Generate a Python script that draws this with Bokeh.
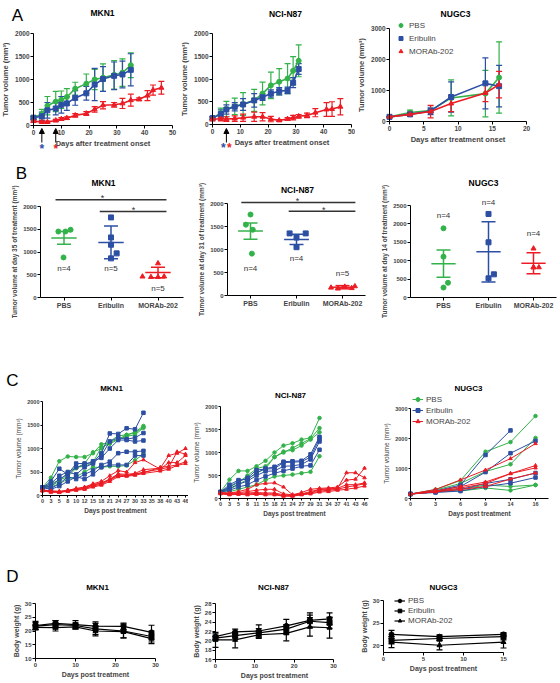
from bokeh.plotting import figure
from bokeh.models import (Range1d, Whisker, TeeHead, ColumnDataSource, Arrow,
                          NormalHead, FixedTicker, Legend, LegendItem)
from bokeh.layouts import row, column
from bokeh.embed import file_html
from bokeh.resources import INLINE
from bokeh.core.properties import value

NAN = float("nan")
FONT = "Liberation Sans"
GREEN = "#33b24a"
BLUE = "#2c4fa3"
RED = "#ec1c24"
COLORS = [GREEN, BLUE, RED]
MARKERS = ["circle", "square", "triangle"]
groups = ["PBS", "Eribulin", "MORAb-202"]

# ---------------- Panel A : mean +/- SEM tumour volume ----------------
a_mkn1_days = [0, 3, 5, 8, 10, 12, 15, 19, 22, 25, 29, 32, 35]
a_mkn1_days_mor = [0, 3, 5, 8, 10, 12, 15, 19, 22, 25, 29, 32, 35, 38, 41, 43, 46]
a_mkn1_pbs = [170, 250, 430, 520, 560, 620, 800, 910, 1000, 1040, 1100, 1150, 1310]
a_mkn1_pbs_sem = [30, 100, 200, 220, 190, 180, 140, 210, 220, 300, 310, 300, 270]
a_mkn1_eri = [170, 200, 330, 370, 450, 480, 600, 700, 890, 1010, 1080, 1110, 1210]
a_mkn1_eri_sem = [30, 90, 170, 140, 180, 150, 160, 150, 350, 270, 300, 290, 350]
a_mkn1_mor = [95, 75, 75, 110, 140, 160, 220, 260, 350, 440, 450, 480, 550, 570, 650, 770, 820]
a_mkn1_mor_sem = [20, 20, 20, 25, 30, 30, 40, 40, 60, 80, 50, 110, 130, 30, 110, 110, 140]
a_mkn1_arrow_days = [3, 8]

a_n87_days = [0, 3, 5, 8, 11, 15, 18, 21, 24, 27, 29, 31]
a_n87_days_mor = [0, 3, 5, 8, 11, 15, 18, 21, 24, 27, 29, 31, 34, 37, 41, 43, 46]
a_n87_pbs = [140, 250, 340, 400, 450, 530, 680, 860, 940, 1010, 1180, 1400]
a_n87_pbs_sem = [30, 110, 170, 180, 250, 240, 250, 290, 290, 330, 310, 350]
a_n87_eri = [140, 230, 330, 390, 440, 530, 600, 680, 730, 750, 920, 1220]
a_n87_eri_sem = [30, 90, 100, 90, 130, 150, 70, 80, 80, 70, 110, 120]
a_n87_mor = [120, 120, 120, 130, 150, 170, 170, 120, 90, 120, 150, 180, 200, 260, 330, 340, 390]
a_n87_mor_sem = [40, 40, 50, 60, 80, 100, 90, 60, 20, 30, 50, 40, 50, 90, 150, 160, 180]
a_n87_arrow_days = [5]

a_nugc_days = [0, 3, 6, 9, 14, 16]
a_nugc_pbs = [150, 290, 350, 760, 900, 1420]
a_nugc_pbs_sem = [0, 80, 60, 580, 750, 1150]
a_nugc_eri = [150, 230, 340, 790, 1230, 1140]
a_nugc_eri_sem = [0, 50, 120, 490, 820, 670]
a_nugc_mor = [150, 230, 320, 580, 920, 1190]
a_nugc_mor_sem = [0, 60, 200, 260, 280, 430]

# ---------------- Panel B : individual tumours at end point ----------------
b_mkn1_pts = [[1450, 1450, 1490, 880], [1760, 1320, 1160, 970, 860], [750, 460, 450, 450, 460]]
b_mkn1_jit = [[-0.12, 0.03, 0.14, -0.01], [0, 0, 0, 0.12, 0], [0, -0.33, -0.15, 0, 0.13]]
b_mkn1_mean = [1310, 1210, 550]
b_mkn1_sem = [140, 360, 115]
b_mkn1_n = ["n=4", "n=5", "n=5"]
b_mkn1_n_y = [640, 640, 200]

b_n87_pts = [[1760, 1540, 1430, 910], [1350, 1350, 1260, 1050], [170, 150, 190, 160, 200]]
b_n87_jit = [[0, -0.1, 0.05, 0.03], [-0.15, 0.2, 0, 0], [-0.25, -0.1, 0.05, 0.2, 0.27]]
b_n87_mean = [1400, 1220, 180]
b_n87_sem = [175, 110, 35]
b_n87_n = ["n=4", "n=4", "n=5"]
b_n87_n_y = [590, 800, 480]

b_nugc_pts = [[1880, 1110, 400, 270], [2270, 1500, 520, 630], [1330, 820, 820, 820]]
b_nugc_jit = [[0, 0, 0.1, 0], [0, 0, 0, 0.12], [0, 0, 0.12, 0]]
b_nugc_mean = [920, 1240, 930]
b_nugc_sem = [370, 820, 285]
b_nugc_n = ["n=4", "n=4", "n=4"]
b_nugc_n_y = [2230, 2580, 1740]

# ---------------- Panel C : individual growth curves ----------------
c_mkn1_labels = ["0", "3", "5", "8", "10", "12", "15", "18", "21", "24", "27", "30", "33",
                 "35", "38", "40", "43", "46"]
c_mkn1_pos = [0, 1, 2, 3, 4, 5, 6, 7, 8, 9, 10, 11, 12]
c_mkn1_pos_mor = [0, 1, 2, 3, 4, 5, 6, 7, 8, 9, 10, 11, 12, 14, 15, 16, 17]
c_mkn1_pbs = [
    [170, 380, 730, 830, 820, 820, 900, 1090, 1130, 1200, 1290, 1350, 1480],
    [170, 250, 330, 400, 580, 680, 920, 1000, 1150, 1270, 1290, 1330, 1450],
    [170, 200, 300, 500, 600, 620, 700, 1030, 1100, 1190, 1260, 1290, 1440],
    [170, 180, 250, 350, 400, 500, 600, 600, 620, 620, 640, 750, 880],
]
c_mkn1_eri = [
    [170, 300, 570, 450, 680, 680, 700, 900, 1320, 1310, 1430, 1410, 1760],
    [170, 250, 420, 500, 450, 600, 680, 850, 1150, 1230, 1200, 1230, 1330],
    [170, 200, 350, 450, 600, 650, 730, 800, 1000, 1180, 1180, 1150, 1170],
    [170, 150, 250, 400, 350, 450, 530, 650, 720, 900, 930, 930, 950],
    [170, 130, 200, 300, 400, 350, 450, 600, 650, 650, 650, 850, 850],
]
c_mkn1_mor = [
    [100, 80, 80, 110, 150, 180, 250, 300, 420, 530, 500, 700, 760, 560, 600, 930, 880],
    [110, 90, 70, 100, 130, 150, 220, 260, 350, 460, 450, 470, 550, 580, 850, 900, 1000],
    [100, 70, 70, 90, 120, 150, 200, 240, 330, 420, 420, 450, 500, 560, 700, 700, 850],
    [120, 100, 90, 110, 140, 170, 230, 270, 340, 440, 430, 460, 480, 600, 620, 650, 720],
    [100, 80, 70, 90, 110, 130, 180, 220, 300, 400, 410, 430, 470, 520, 560, 640, 680],
]
c_n87_labels = ["0", "3", "5", "8", "11", "15", "18", "21", "24", "27", "29", "31", "34",
                "37", "41", "43", "46"]
c_n87_pos = [0, 1, 2, 3, 4, 5, 6, 7, 8, 9, 10, 11]
c_n87_pos_mor = [0, 1, 2, 3, 4, 5, 6, 7, 8, 9, 10, 11, 12, 13, 14, 15, 16]
c_n87_pbs = [
    [140, 410, 600, 600, 700, 820, 1000, 1150, 1200, 1280, 1320, 1750],
    [140, 250, 350, 500, 650, 700, 900, 1000, 1100, 1200, 1300, 1530],
    [140, 200, 300, 420, 550, 650, 900, 1020, 1050, 1150, 1280, 1440],
    [140, 150, 200, 250, 300, 400, 480, 500, 520, 550, 580, 920],
]
c_n87_eri = [
    [140, 300, 400, 420, 560, 650, 690, 800, 810, 820, 960, 1340],
    [140, 260, 370, 450, 620, 640, 650, 780, 790, 800, 900, 1300],
    [140, 220, 310, 380, 500, 590, 600, 700, 710, 740, 850, 1240],
    [140, 180, 250, 300, 400, 480, 550, 600, 650, 700, 720, 1060],
]
c_n87_mor = [
    [130, 120, 150, 200, 300, 330, 340, 250, 80, 100, 120, 200, 210, 220, 560, 560, 450],
    [120, 110, 130, 150, 180, 200, 200, 100, 80, 130, 200, 220, 230, 250, 400, 420, 660],
    [120, 100, 110, 120, 130, 120, 120, 80, 70, 100, 150, 200, 200, 220, 300, 300, 340],
    [110, 90, 100, 100, 110, 100, 100, 60, 60, 90, 120, 160, 180, 200, 250, 280, 320],
    [100, 80, 90, 80, 90, 80, 80, 50, 50, 80, 100, 140, 150, 180, 200, 230, 270],
]
c_nugc_labels = ["0", "3", "6", "9", "14", "16"]
c_nugc_pos = [0, 1, 2, 3, 4, 5]
c_nugc_pbs = [
    [150, 300, 600, 1560, 1880, 2750],
    [150, 280, 500, 900, 1140, 2020],
    [150, 250, 300, 450, 400, 450],
    [150, 220, 250, 350, 270, 450],
]
c_nugc_eri = [
    [150, 250, 450, 1450, 2270, NAN],
    [150, 240, 400, 880, 1510, 1920],
    [150, 220, 300, 500, 640, 850],
    [150, 200, 250, 400, 510, 700],
]
c_nugc_mor = [
    [150, 300, 620, 950, 1330, 1830],
    [150, 250, 400, 550, 830, 1100],
    [150, 230, 350, 500, 830, 1020],
    [150, 220, 300, 400, 650, 850],
]

# ---------------- Panel D : body weight ----------------
d_mkn1_days = [0, 5, 10, 15, 22, 29]
d_mkn1_mean = [[22.0, 22.8, 22.3, 21.8, 21.7, 19.5],
               [21.8, 22.3, 22.0, 20.8, 20.0, 18.0],
               [21.3, 21.2, 21.5, 20.0, 19.8, 17.2]]
d_mkn1_sem = [[1.5, 1.0, 1.5, 1.5, 1.2, 2.6],
              [1.3, 1.5, 1.0, 2.0, 2.5, 2.0],
              [0.8, 1.2, 0.8, 1.8, 2.3, 1.8]]
d_n87_days = [0, 5, 11, 18, 24, 29]
d_n87_mean = [[20.9, 21.9, 22.1, 23.2, 24.4, 24.7],
              [20.6, 21.1, 21.7, 22.5, 24.2, 23.9],
              [20.2, 20.2, 21.3, 21.6, 23.0, 22.8]]
d_n87_sem = [[0.6, 0.6, 1.3, 1.4, 1.6, 1.3],
             [0.4, 0.5, 0.9, 1.0, 1.3, 1.2],
             [1.6, 1.7, 0.8, 1.6, 2.0, 2.2]]
d_nugc_days = [1, 7, 15]
d_nugc_mean = [[22.5, 22.0, 22.5], [21.2, 21.6, 22.0], [20.8, 20.1, 20.8]]
d_nugc_sem = [[0.9, 0.4, 0.4], [0.8, 0.5, 0.7], [1.2, 1.0, 1.3]]


# ---------------- layout helpers (page pixel geometry) ----------------
def geo(X0, Y0, W, H, xa_px, xb_px, xa, xb, ya_px, yb_px, ya, yb):
    kx = (xb_px - xa_px) / (xb - xa)
    ky = (ya_px - yb_px) / (yb - ya)
    x0 = xa - (xa_px - X0) / kx
    y0 = ya - (Y0 + H - ya_px) / ky
    return dict(X0=X0, Y0=Y0, W=W, H=H, kx=kx, ky=ky, x0=x0, x1=x0 + W / kx,
                y0=y0, y1=y0 + H / ky, xa=xa, ya=ya)


def SX(g, sx):
    return g["x0"] + (sx - g["X0"]) / g["kx"]


def SY(g, sy):
    return g["y0"] + (g["Y0"] + g["H"] - sy) / g["ky"]


def mk(g, xbounds, ybounds, xticks, yticks, xlab, ylab, tick="6.5px", lab="7.5px"):
    p = figure(width=g["W"], height=g["H"], x_range=Range1d(g["x0"], g["x1"]),
               y_range=Range1d(g["y0"], g["y1"]), min_border_left=0, min_border_right=0,
               min_border_top=0, min_border_bottom=0, output_backend="svg", toolbar_location=None)
    p.outline_line_color = None
    p.xgrid.visible = False
    p.ygrid.visible = False
    p.xaxis.fixed_location = g["ya"]
    p.yaxis.fixed_location = g["xa"]
    p.xaxis.bounds = xbounds
    p.yaxis.bounds = ybounds
    p.xaxis.ticker = FixedTicker(ticks=xticks)
    p.yaxis.ticker = FixedTicker(ticks=yticks)
    p.xaxis.axis_label = xlab
    p.yaxis.axis_label = ylab
    for ax in (p.xaxis[0], p.yaxis[0]):
        ax.axis_line_color = "black"
        ax.axis_line_width = 1
        ax.major_tick_line_color = "black"
        ax.major_tick_out = 3
        ax.major_tick_in = 0
        ax.minor_tick_line_color = None
        ax.major_label_text_font = FONT
        ax.major_label_text_font_size = tick
        ax.major_label_text_font_style = "bold"
        ax.major_label_standoff = 1
        ax.axis_label_text_font = FONT
        ax.axis_label_text_font_size = lab
        ax.axis_label_text_font_style = "bold"
        ax.axis_label_standoff = 2
    p.xaxis.axis_label_standoff = 1
    return p


def txt(p, g, sx, sy, s, size="8.5px", bold=True, color="black"):
    p.text(x=[SX(g, sx)], y=[SY(g, sy)], text=[s], text_font=value(FONT), text_font_size=size,
           text_font_style="bold" if bold else "normal", text_align="center",
           text_baseline="middle", text_color=color)


def whisk(p, x, mean, sem, color, cap=6, lw=1.2):
    src = ColumnDataSource(dict(base=x, upper=[m + s for m, s in zip(mean, sem)],
                                lower=[m - s for m, s in zip(mean, sem)]))
    p.add_layout(Whisker(source=src, base="base", upper="upper", lower="lower",
                         line_color=color, line_width=lw,
                         upper_head=TeeHead(size=cap, line_color=color, line_width=lw),
                         lower_head=TeeHead(size=cap, line_color=color, line_width=lw)))


def legend(p, g, items, sx, sy_bottom, lh=10, spacing=2):
    leg = Legend(items=[LegendItem(label=lab, renderers=rs) for lab, rs in items],
                 location=(sx - g["X0"], g["Y0"] + g["H"] - sy_bottom),
                 border_line_color=None, background_fill_alpha=0,
                 label_text_font=FONT, label_text_font_size="8px", glyph_width=11,
                 glyph_height=lh, label_height=lh, spacing=spacing, padding=0, margin=0,
                 label_standoff=3)
    p.add_layout(leg)


# ================= Row A =================
def panel_a(g, title, tpos, days, days_m, series, xticks, yticks, xb, yb):
    p = mk(g, xb, yb, xticks, yticks, "Days after treatment onset", "Tumor volume (mm\u00b3)")
    txt(p, g, tpos[0], tpos[1], title)
    rends = []
    for i, (mean, sem) in enumerate(series):
        d = days_m if i == 2 else days
        c = COLORS[i]
        whisk(p, d, mean, sem, c, cap=6)
        p.line(d, mean, line_color=c, line_width=1.6)
        rends.append(p.scatter(d, mean, marker=MARKERS[i], size=5, color=c))
    return p, rends


def arrow(p, g, d):
    p.add_layout(Arrow(end=NormalHead(size=5, fill_color="black", line_color="black"),
                       x_start=d, y_start=SY(g, 142), x_end=d, y_end=SY(g, 128), line_width=1))


gA1 = geo(0, 0, 178, 155, 33, 172, 0, 50, 125, 33, 0, 2000)
a1, _ = panel_a(gA1, "MKN1", (102, 12), a_mkn1_days, a_mkn1_days_mor,
                [(a_mkn1_pbs, a_mkn1_pbs_sem), (a_mkn1_eri, a_mkn1_eri_sem), (a_mkn1_mor, a_mkn1_mor_sem)],
                [0, 10, 20, 30, 40, 50], [0, 500, 1000, 1500, 2000], (0, 50), (0, 2000))
txt(a1, gA1, 17, 15, "A", size="17px", bold=False)
for dd in a_mkn1_arrow_days:
    arrow(a1, gA1, dd)
a1.text(x=a_mkn1_arrow_days, y=[SY(gA1, 148)] * 2, text=["*", "*"], text_color=[BLUE, RED],
        text_font=value(FONT), text_font_size="12px", text_font_style="bold",
        text_align="center", text_baseline="middle")

gA2 = geo(178, 0, 177, 155, 212, 351, 0, 50, 124, 33, 0, 2000)
a2, _ = panel_a(gA2, "NCI-N87", (285, 13), a_n87_days, a_n87_days_mor,
                [(a_n87_pbs, a_n87_pbs_sem), (a_n87_eri, a_n87_eri_sem), (a_n87_mor, a_n87_mor_sem)],
                [0, 10, 20, 30, 40, 50], [0, 500, 1000, 1500, 2000], (0, 50), (0, 2000))
for dd in a_n87_arrow_days:
    arrow(a2, gA2, dd)
a2.text(x=a_n87_arrow_days * 2, y=[SY(gA2, 147)] * 2, x_offset=[-3, 3], text=["*", "*"],
        text_color=[BLUE, RED], text_font=value(FONT), text_font_size="12px", text_font_style="bold",
        text_align="center", text_baseline="middle")

gA3 = geo(355, 0, 205, 155, 389, 526, 0, 20, 121, 28, 0, 3000)
a3, ra3 = panel_a(gA3, "NUGC3", (455, 13), a_nugc_days, a_nugc_days,
                  [(a_nugc_pbs, a_nugc_pbs_sem), (a_nugc_eri, a_nugc_eri_sem), (a_nugc_mor, a_nugc_mor_sem)],
                  [0, 5, 10, 15, 20], [0, 1000, 2000, 3000], (0, 20), (0, 3000))
legend(a3, gA3, [(gname, [r]) for gname, r in zip(groups, ra3)], 395, 56, lh=10, spacing=3)


# ================= Row B =================
def panel_b(g, title, tpos, pts, jit, mean, sem, ntxt, ny, ylab, yticks, xb, yb):
    p = mk(g, xb, yb, [1, 2, 3], yticks, None, ylab, tick="6px", lab="6.5px")
    p.xaxis.major_label_overrides = {1: groups[0], 2: groups[1], 3: groups[2]}
    p.xaxis.major_label_text_font_size = "7px"
    txt(p, g, tpos[0], tpos[1], title)
    for i in range(3):
        c = COLORS[i]
        xs = [i + 1 + j for j in jit[i]]
        p.scatter(xs, pts[i], marker=MARKERS[i], size=5, color=c)
        p.segment(x0=[i + 1 - 0.27], x1=[i + 1 + 0.27], y0=[mean[i]], y1=[mean[i]], line_color=c, line_width=1.5)
        whisk(p, [i + 1], [mean[i]], [sem[i]], c, cap=14, lw=1.5)
    p.text(x=[1, 2, 3], y=ny, text=ntxt, text_font=value(FONT), text_font_size="8px",
           text_align="center", text_baseline="middle", text_color="#333333")
    return p


gB1 = geo(0, 155, 188, 163, 40, 110.5, 0.5, 2, 297, 206, 0, 2000)
b1 = panel_b(gB1, "MKN1", (103, 182), b_mkn1_pts, b_mkn1_jit, b_mkn1_mean, b_mkn1_sem, b_mkn1_n, b_mkn1_n_y,
             "Tumor volume at day 35 of treatment (mm\u00b3)", [0, 500, 1000, 1500, 2000], (0.5, 3.54), (0, 2000))
b1.segment(x0=[0.82, 1.76], x1=[3.18, 3.18], y0=[2150, 1890], y1=[2150, 1890], line_color="#333333", line_width=1.5)
b1.text(x=[1.82, 2.48], y=[2180, 1920], text=["*", "*"], text_font=value(FONT), text_font_size="9px",
        text_align="center", text_baseline="alphabetic", text_color="#333333")
txt(b1, gB1, 21, 173, "B", size="17px", bold=False)

gB2 = geo(188, 155, 187, 163, 227, 296, 0.5, 2, 295, 203, 0, 2000)
b2 = panel_b(gB2, "NCI-N87", (297, 189), b_n87_pts, b_n87_jit, b_n87_mean, b_n87_sem, b_n87_n, b_n87_n_y,
             "Tumor volume at day 31 of treatment (mm\u00b3)", [0, 500, 1000, 1500, 2000], (0.5, 3.5), (0, 2000))
b2.segment(x0=[0.8, 1.83], x1=[3.28, 3.28], y0=[2020, 1830], y1=[2020, 1830], line_color="#333333", line_width=1.5)
b2.text(x=[2.02, 2.59], y=[2050, 1860], text=["*", "*"], text_font=value(FONT), text_font_size="9px",
        text_align="center", text_baseline="alphabetic", text_color="#333333")

gB3 = geo(375, 155, 185, 163, 410, 488, 0.2667, 2, 297, 205, 0, 2500)
b3 = panel_b(gB3, "NUGC3", (483, 182), b_nugc_pts, b_nugc_jit, b_nugc_mean, b_nugc_sem, b_nugc_n, b_nugc_n_y,
             "Tumor volume at day 14 of treatment (mm\u00b3)", [0, 500, 1000, 1500, 2000, 2500],
             (0.2667, 3.5), (0, 2500))


# ================= Row C =================
def panel_c(g, title, tpos, pos, pos_m, series, labels, yticks, xb, yb):
    p = mk(g, xb, yb, list(range(len(labels))), yticks, "Days post treatment", "Tumor volume (mm\u00b3)",
           tick="5.5px", lab="6.5px")
    p.xaxis.major_label_overrides = {i: s for i, s in enumerate(labels)}
    p.yaxis.axis_label_text_font_style = "normal"
    p.xaxis.major_tick_out = 2
    p.yaxis.major_tick_out = 2
    txt(p, g, tpos[0], tpos[1], title, size="8px")
    first = []
    for i, curves in enumerate(series):
        d = pos_m if i == 2 else pos
        c = COLORS[i]
        for k, v in enumerate(curves):
            ln = p.line(d[:len(v)], v, line_color=c, line_width=1)
            sc = p.scatter(d[:len(v)], v, marker=MARKERS[i], size=3.5, color=c)
            if k == 0:
                first.append([ln, sc])
    return p, first


gC1 = geo(0, 318, 188, 218, 42, 185, 0, 17, 495, 401, 0, 2000)
c1, _ = panel_c(gC1, "MKN1", (111, 388), c_mkn1_pos, c_mkn1_pos_mor, [c_mkn1_pbs, c_mkn1_eri, c_mkn1_mor],
                c_mkn1_labels, [0, 500, 1000, 1500, 2000], (0, 17.3), (0, 2000))
txt(c1, gC1, 12, 380, "C", size="17px", bold=False)

gC2 = geo(188, 318, 184, 218, 220, 364, 0, 16, 498, 406, 0, 2000)
c2, _ = panel_c(gC2, "NCI-N87", (290, 395), c_n87_pos, c_n87_pos_mor, [c_n87_pbs, c_n87_eri, c_n87_mor],
                c_n87_labels, [0, 500, 1000, 1500, 2000], (0, 16.4), (0, 2000))

gC3 = geo(372, 318, 188, 218, 410, 535, 0, 5, 498, 408, 0, 3000)
c3, rc3 = panel_c(gC3, "NUGC3", (468, 388), c_nugc_pos, c_nugc_pos, [c_nugc_pbs, c_nugc_eri, c_nugc_mor],
                  c_nugc_labels, [0, 1000, 2000, 3000], (0, 5.5), (0, 3000))
legend(c3, gC3, [(gname, rs) for gname, rs in zip(groups, rc3)], 412, 426, lh=10, spacing=1)


# ================= Row D =================
def panel_d(g, title, tpos, days, means, sems, xticks, yticks, xb, yb):
    p = mk(g, xb, yb, xticks, yticks, "Days post treatment", "Body weight (g)", tick="6px", lab="7px")
    txt(p, g, tpos[0], tpos[1], title, size="8px")
    rends = []
    for i in range(3):
        whisk(p, days, means[i], sems[i], "black", cap=6, lw=1.2)
        ln = p.line(days, means[i], line_color="black", line_width=1.2)
        sc = p.scatter(days, means[i], marker=MARKERS[i], size=5, color="black")
        rends.append([ln, sc])
    return p, rends


gD1 = geo(0, 536, 188, 147, 35, 155, 0, 30, 658, 603, 10, 30)
d1, _ = panel_d(gD1, "MKN1", (97, 587), d_mkn1_days, d_mkn1_mean, d_mkn1_sem,
                [0, 10, 20, 30], [10, 15, 20, 25, 30], (0, 30), (10, 30))
txt(d1, gD1, 12, 576, "D", size="17px", bold=False)

gD2 = geo(188, 536, 170, 147, 215, 333, 0, 30, 659, 603, 16, 28)
d2, _ = panel_d(gD2, "NCI-N87", (273, 587), d_n87_days, d_n87_mean, d_n87_sem,
                [0, 10, 20, 30], [16, 18, 20, 22, 24, 26, 28], (0, 30), (16, 28))

gD3 = geo(358, 536, 202, 147, 383, 503, 0, 15, 652, 600, 18.5, 30)
d3, rd3 = panel_d(gD3, "NUGC3", (443, 587), d_nugc_days, d_nugc_mean, d_nugc_sem,
                  [0, 5, 10, 15], [20, 25, 30], (0, 15), (18.5, 30))
legend(d3, gD3, [(gname, rs) for gname, rs in zip(groups, rd3)], 394, 625, lh=9, spacing=1)

layout = column(row(a1, a2, a3, spacing=0), row(b1, b2, b3, spacing=0),
                row(c1, c2, c3, spacing=0), row(d1, d2, d3, spacing=0), spacing=0)

open("out.html", "w").write(file_html(layout, INLINE))
